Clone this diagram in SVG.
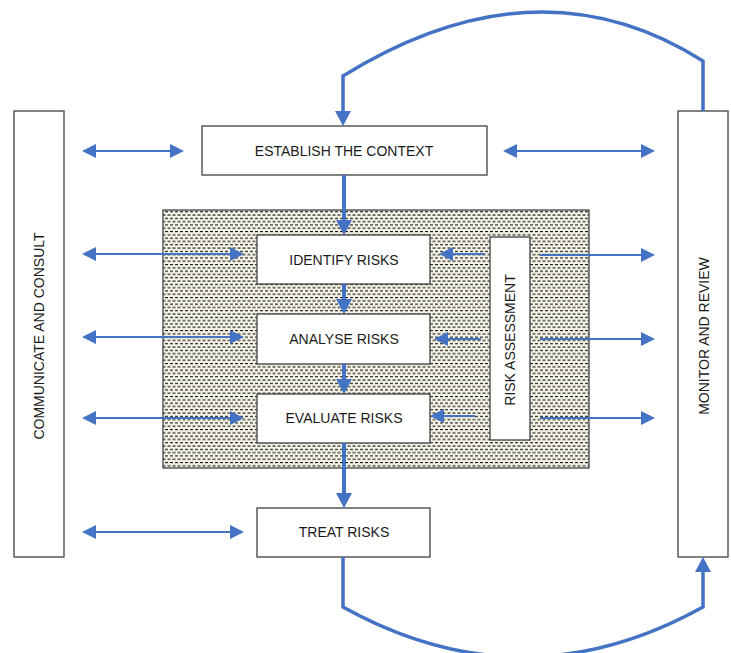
<svg xmlns="http://www.w3.org/2000/svg" width="731" height="653" viewBox="0 0 731 653">
<style>
.box{fill:#fff;stroke:#404040;stroke-width:1.3}
.lbl{font-family:"Liberation Sans",Arial,sans-serif;font-size:14px;fill:#1a1a1a;text-anchor:middle}
.thin{fill:none;stroke:#4472C4;stroke-width:2}
.thick{fill:none;stroke:#4472C4;stroke-width:4}
.arc{fill:none;stroke:#4472C4;stroke-width:3.5}
</style>
<defs>
<pattern id="dots" width="5" height="6.6" patternUnits="userSpaceOnUse">
<rect width="5" height="6.6" fill="#f6f4e6"/>
<rect x="0" y="0" width="3" height="1.1" fill="#111"/>
<rect x="2.5" y="3.3" width="2.5" height="1.1" fill="#111"/>
<rect x="0" y="3.3" width="0.5" height="1.1" fill="#111"/>
</pattern>
<marker id="ah" markerUnits="userSpaceOnUse" markerWidth="14" markerHeight="14" refX="0" refY="6" orient="auto-start-reverse" viewBox="0 0 12 12">
<path d="M0,0 L12,6 L0,12 Z" fill="#4472C4"/>
</marker>
<marker id="ahT" markerUnits="userSpaceOnUse" markerWidth="16" markerHeight="16" refX="0" refY="8" orient="auto" viewBox="0 0 15 16">
<path d="M0,0 L15,8 L0,16 Z" fill="#4472C4"/>
</marker>
</defs>
<rect width="731" height="653" fill="#fff"/>

<g id="assessment-area">
<rect x="163" y="210" width="426" height="258" fill="url(#dots)" stroke="#404040" stroke-width="1.3"/>
</g>

<g id="communicate">
<rect class="box" x="14" y="111" width="50" height="446"/>
<text class="lbl" transform="translate(44,336) rotate(-90)">COMMUNICATE AND CONSULT</text>
</g>
<g id="monitor">
<rect class="box" x="678" y="111" width="50" height="446"/>
<text class="lbl" transform="translate(709,336) rotate(-90)">MONITOR AND REVIEW</text>
</g>
<g id="establish">
<rect class="box" x="202" y="126" width="285" height="49"/>
<text class="lbl" x="344" y="156">ESTABLISH THE CONTEXT</text>
</g>
<g id="identify">
<rect class="box" x="257" y="235" width="173" height="49"/>
<text class="lbl" x="344" y="265">IDENTIFY RISKS</text>
</g>
<g id="analyse">
<rect class="box" x="257" y="314" width="173" height="50"/>
<text class="lbl" x="344" y="344">ANALYSE RISKS</text>
</g>
<g id="evaluate">
<rect class="box" x="257" y="394" width="173" height="49"/>
<text class="lbl" x="344" y="423">EVALUATE RISKS</text>
</g>
<g id="risk-assessment">
<rect class="box" x="490" y="237" width="40" height="203"/>
<text class="lbl" transform="translate(515,340) rotate(-90)">RISK ASSESSMENT</text>
</g>
<g id="treat">
<rect class="box" x="257" y="508" width="173" height="49"/>
<text class="lbl" x="344" y="537">TREAT RISKS</text>
</g>

<g id="connectors">
<path class="thin" d="M96,151 L170,151" marker-start="url(#ah)" marker-end="url(#ah)"/>
<path class="thin" d="M96,254 L230,254" marker-start="url(#ah)" marker-end="url(#ah)"/>
<path class="thin" d="M96,337 L230,337" marker-start="url(#ah)" marker-end="url(#ah)"/>
<path class="thin" d="M96,418 L230,418" marker-start="url(#ah)" marker-end="url(#ah)"/>
<path class="thin" d="M96,532 L230,532" marker-start="url(#ah)" marker-end="url(#ah)"/>
<path class="thin" d="M517,151 L641,151" marker-start="url(#ah)" marker-end="url(#ah)"/>
<path class="thin" d="M485,254 L453,254" marker-end="url(#ah)"/>
<path class="thin" d="M481,339 L448,339" marker-end="url(#ah)"/>
<path class="thin" d="M475,416 L444,416" marker-end="url(#ah)"/>
<path class="thin" d="M540,255 L641,255" marker-end="url(#ah)"/>
<path class="thin" d="M540,339 L641,339" marker-end="url(#ah)"/>
<path class="thin" d="M540,418 L641,418" marker-end="url(#ah)"/>
<path class="thick" d="M344,175 L344,220" marker-end="url(#ahT)"/>
<path class="thick" d="M344,284 L344,299" marker-end="url(#ahT)"/>
<path class="thick" d="M344,364 L344,379" marker-end="url(#ahT)"/>
<path class="thick" d="M344,443 L344,493" marker-end="url(#ahT)"/>
<path class="arc" d="M703,111 L703,61 Q537,-44 343,76 L343,111" marker-end="url(#ahT)"/>
<path class="arc" d="M343,557 L343,607 Q523,707 703,607 L703,572" marker-end="url(#ahT)"/>
</g>
</svg>
